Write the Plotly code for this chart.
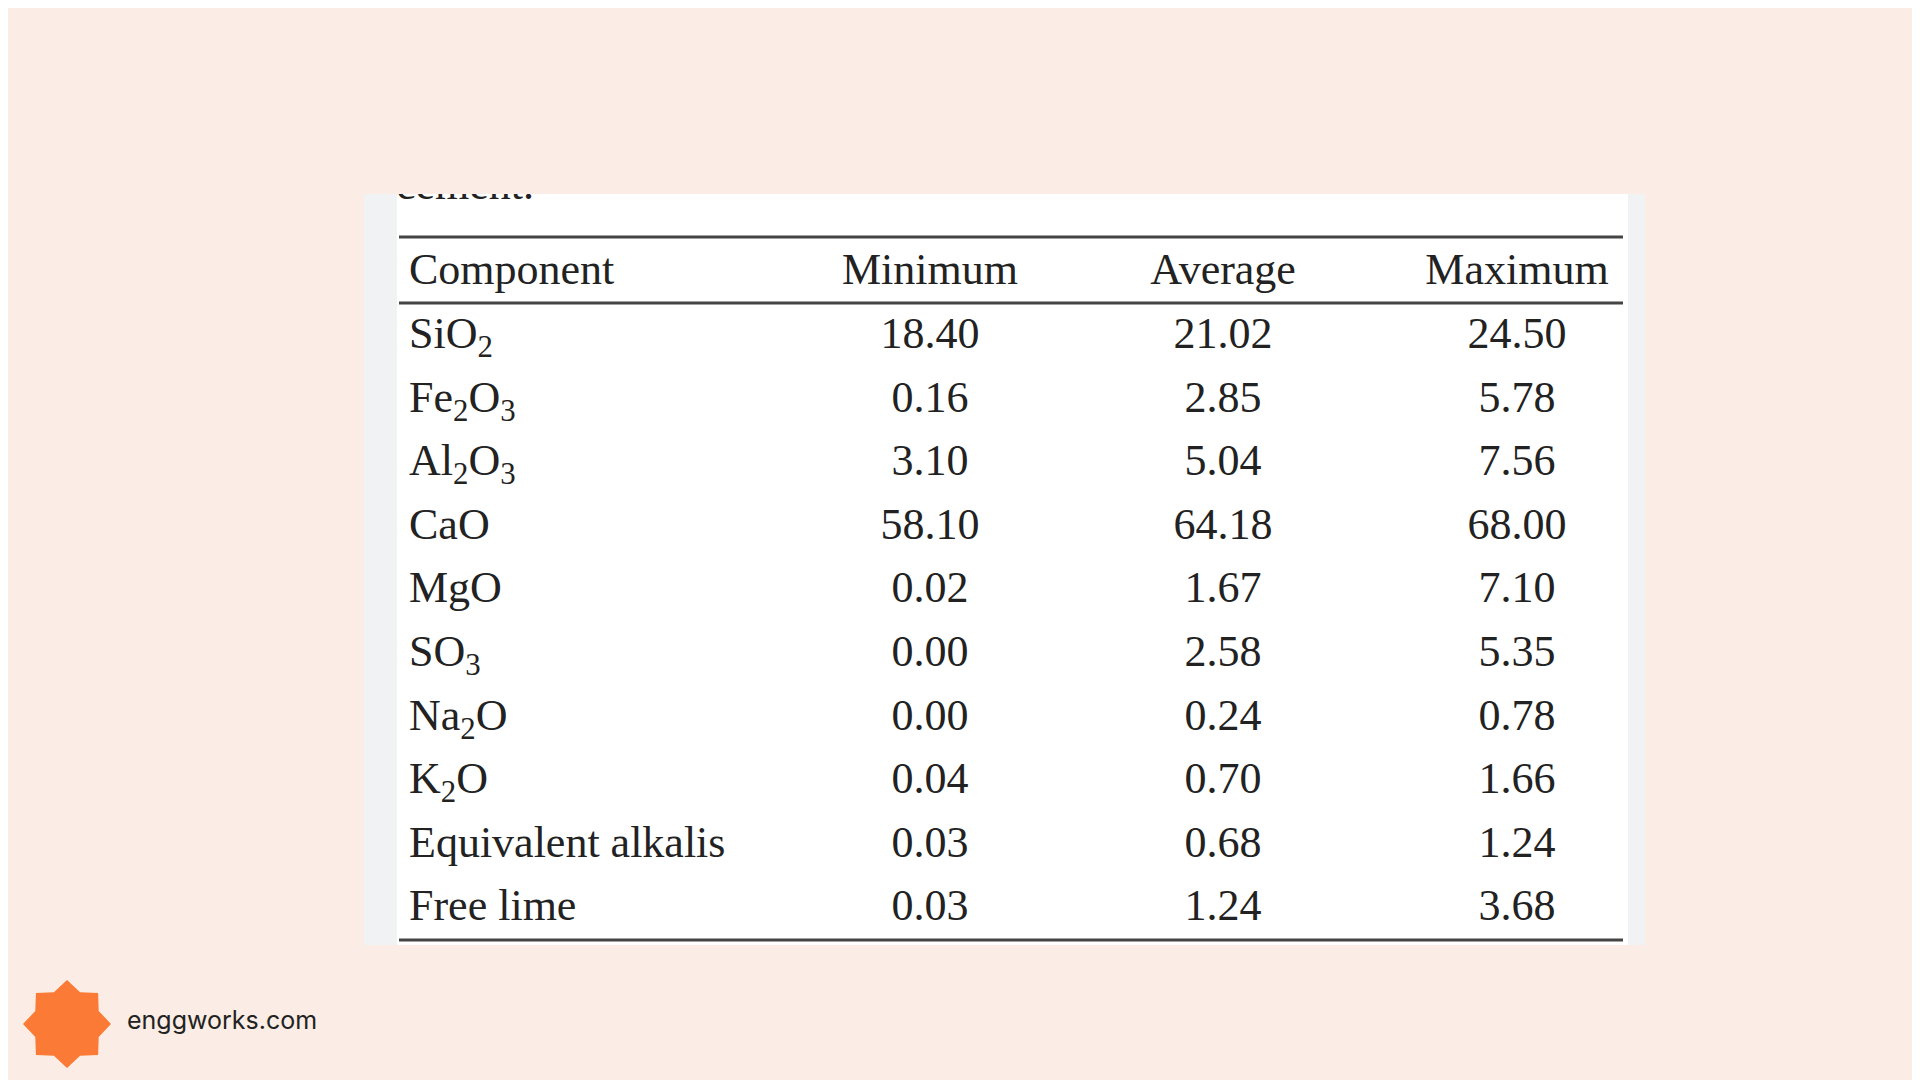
import plotly.graph_objects as go
import math

components = ["SiO<sub>2</sub>", "Fe<sub>2</sub>O<sub>3</sub>", "Al<sub>2</sub>O<sub>3</sub>", "CaO", "MgO",
              "SO<sub>3</sub>", "Na<sub>2</sub>O", "K<sub>2</sub>O", "Equivalent alkalis", "Free lime"]
minimum = [18.40, 0.16, 3.10, 58.10, 0.02, 0.00, 0.00, 0.04, 0.03, 0.03]
average = [21.02, 2.85, 5.04, 64.18, 1.67, 2.58, 0.24, 0.70, 0.68, 1.24]
maximum = [24.50, 5.78, 7.56, 68.00, 7.10, 5.35, 0.78, 1.66, 1.24, 3.68]
headers = ["Component", "Minimum", "Average", "Maximum"]

BG = "#fbede5"
FONT = "Liberation Serif"
FS = 44
row_y = [329 + i * 63.6 for i in range(len(components))]
col_x = [922, 1215, 1509]

fig = go.Figure()
fig.add_trace(go.Scatter(x=[401], y=[265], mode="text", text=[headers[0]], textposition="middle right",
                         textfont=dict(family=FONT, size=FS, color="#222")))
fig.add_trace(go.Scatter(x=col_x, y=[265] * 3, mode="text", text=headers[1:], textposition="middle center",
                         textfont=dict(family=FONT, size=FS, color="#222")))
fig.add_trace(go.Scatter(x=[401] * len(components), y=row_y, mode="text", text=components,
                         textposition="middle right", textfont=dict(family=FONT, size=FS, color="#222")))
for cx, vals in zip(col_x, [minimum, average, maximum]):
    fig.add_trace(go.Scatter(x=[cx] * len(vals), y=row_y, mode="text", text=[f"{v:.2f}" for v in vals],
                             textposition="middle center", textfont=dict(family=FONT, size=FS, color="#222")))
# clipped caption (only its lower part is visible)
fig.add_trace(go.Scatter(x=[388], y=[202], mode="text", text=["cement."], textposition="top right",
                         textfont=dict(family=FONT, size=FS, color="#222"), xaxis="x2", yaxis="y2",
                         cliponaxis=True))
fig.add_trace(go.Scatter(x=[119], y=[1015], mode="text", text=["enggworks.com"], textposition="middle right",
                         textfont=dict(family="Inter", size=25, color="#222")))

shapes = [
    dict(type="rect", x0=356, x1=1637, y0=186, y1=937, fillcolor="#f1f2f4", line_width=0, layer="below"),
    dict(type="rect", x0=389, x1=1620, y0=186, y1=937, fillcolor="white", line_width=0, layer="below"),
]
for yy, w in [(229, 3), (295, 3), (932, 3)]:
    shapes.append(dict(type="line", x0=391, x1=1615, y0=yy, y1=yy, line=dict(color="#444", width=w)))
cx, cy, r = 59, 1016, 44
pts = []
for i in range(16):
    a = math.pi / 8 * i - math.pi / 2
    rr = r if i % 2 == 0 else r * 0.78
    pts.append((cx + rr * math.cos(a), cy + rr * math.sin(a)))
path = "M " + " L ".join(f"{x:.1f},{y:.1f}" for x, y in pts) + " Z"
shapes.append(dict(type="path", path=path, fillcolor="#fb7a36", line_width=0))

ax = dict(visible=False, showgrid=False, zeroline=False, fixedrange=True)
fig.update_layout(
    width=1920, height=1080, margin=dict(l=0, r=0, t=0, b=0),
    paper_bgcolor=BG, plot_bgcolor="rgba(0,0,0,0)", showlegend=False,
    xaxis=dict(range=[0, 1920], domain=[0, 1], **ax),
    yaxis=dict(range=[1080, 0], domain=[0, 1], **ax),
    xaxis2=dict(range=[389, 1620], domain=[389 / 1920, 1620 / 1920], anchor="y2", **ax),
    yaxis2=dict(range=[937, 186], domain=[1 - 937 / 1080, 1 - 186 / 1080], anchor="x2", **ax),
    shapes=shapes,
)
fig.write_html("out.html")
